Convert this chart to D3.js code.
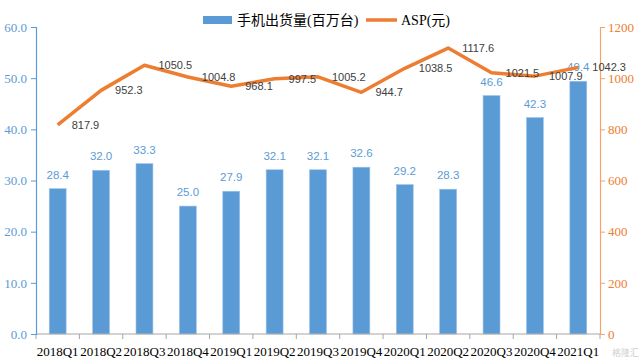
<!DOCTYPE html>
<html>
<head>
<meta charset="utf-8">
<script src="https://cdn.jsdelivr.net/npm/d3@7"></script>
<style>
body { margin:0; background:#fff; }
svg text { font-family: "Liberation Serif", "Noto Sans CJK SC", serif; }
</style>
</head>
<body>
<div id="chart"></div>
<script>
var quarters = ["2018Q1","2018Q2","2018Q3","2018Q4","2019Q1","2019Q2","2019Q3","2019Q4","2020Q1","2020Q2","2020Q3","2020Q4","2021Q1"];
var shipments = [28.4, 32.0, 33.3, 25.0, 27.9, 32.1, 32.1, 32.6, 29.2, 28.3, 46.6, 42.3, 49.4];
var asp = [817.9, 952.3, 1050.5, 1004.8, 968.1, 997.5, 1005.2, 944.7, 1038.5, 1117.6, 1021.5, 1007.9, 1042.3];
var leftTicks = [0, 10, 20, 30, 40, 50, 60];
var rightTicks = [0, 200, 400, 600, 800, 1000, 1200];

var blue = "#5b9bd5", orange = "#ed7d31";
var width = 640, height = 363;
var margin = {top:27, left:36, right:40, bottom:29};

var svg = d3.select("#chart").append("svg")
  .attr("width", width)
  .attr("height", height);

var x = d3.scaleBand()
  .domain(quarters)
  .range([margin.left, width - margin.right])
  .paddingInner(0.61)
  .paddingOuter(0.305);

var yL = d3.scaleLinear().domain([0, 60]).range([height - margin.bottom, margin.top]);
var yR = d3.scaleLinear().domain([0, 1200]).range([height - margin.bottom, margin.top]);

// band edges for x ticks
var step = x.step();
var x0 = margin.left;

// bars
svg.selectAll(".bar")
  .data(shipments)
  .enter().append("rect")
  .attr("class", "bar")
  .attr("x", function(d, i){ return x(quarters[i]); })
  .attr("y", function(d){ return yL(d); })
  .attr("width", x.bandwidth())
  .attr("height", function(d){ return yL(0) - yL(d); })
  .attr("fill", blue)
  .attr("stroke", "#9dc3e6")
  .attr("stroke-width", 0.6);

// bar labels
svg.selectAll(".barlab")
  .data(shipments)
  .enter().append("text")
  .attr("x", function(d, i){ return x(quarters[i]) + x.bandwidth()/2; })
  .attr("y", function(d){ return yL(d) - 10; })
  .attr("text-anchor", "middle")
  .style("font-family", "'Liberation Sans', sans-serif")
  .style("font-size", "11.5px")
  .attr("fill", blue)
  .text(function(d){ return d.toFixed(1); });

// x axis
var xAxis = svg.append("g")
  .attr("transform", "translate(0," + yL(0) + ")");
xAxis.append("line")
  .attr("x1", margin.left).attr("x2", width - margin.right)
  .attr("stroke", "#a6a6a6");
xAxis.selectAll(".xt")
  .data(d3.range(quarters.length + 1))
  .enter().append("line")
  .attr("x1", function(i){ return x0 + i * step; })
  .attr("x2", function(i){ return x0 + i * step; })
  .attr("y2", 5)
  .attr("stroke", "#a6a6a6");
xAxis.selectAll(".xl")
  .data(quarters)
  .enter().append("text")
  .attr("x", function(d){ return x(d) + x.bandwidth()/2; })
  .attr("y", 22)
  .attr("text-anchor", "middle")
  .style("font-size", "13px")
  .attr("fill", "#000")
  .text(function(d){ return d; });

// left axis
var gL = svg.append("g")
  .attr("transform", "translate(" + margin.left + ",0)")
  .call(d3.axisLeft(yL).tickValues(leftTicks).tickSize(5).tickPadding(4)
    .tickFormat(function(d){ return d.toFixed(1); }));
gL.select(".domain").attr("stroke", blue).attr("stroke-width", 1.2);
gL.selectAll(".tick line").attr("stroke", blue);
gL.selectAll(".tick text").attr("fill", blue)
  .style("font-family", "'Liberation Serif', serif").style("font-size", "13px");

// right axis
var gR = svg.append("g")
  .attr("transform", "translate(" + (width - margin.right) + ",0)")
  .call(d3.axisRight(yR).tickValues(rightTicks).tickSize(5).tickPadding(3)
    .tickFormat(d3.format("d")));
gR.select(".domain").attr("stroke", "#f4a36c").attr("stroke-width", 1.2);
gR.selectAll(".tick line").attr("stroke", "#f4a36c");
gR.selectAll(".tick text").attr("fill", orange)
  .style("font-family", "'Liberation Serif', serif").style("font-size", "13px");

// asp line
var line = d3.line()
  .x(function(d, i){ return x(quarters[i]) + x.bandwidth()/2; })
  .y(function(d){ return yR(d); });

svg.append("path")
  .datum(asp)
  .attr("d", line)
  .attr("fill", "none")
  .attr("stroke", orange)
  .attr("stroke-width", 3.5)
  .attr("stroke-linejoin", "round");

svg.selectAll(".asplab")
  .data(asp)
  .enter().append("text")
  .attr("x", function(d, i){ return x(quarters[i]) + x.bandwidth()/2 + 14; })
  .attr("y", function(d){ return yR(d) + 4; })
  .style("font-family", "'Liberation Sans', sans-serif")
  .style("font-size", "11px")
  .attr("fill", "#404040")
  .text(function(d){ return d.toFixed(1); });

// legend
var lg = svg.append("g");
lg.append("rect")
  .attr("x", 203).attr("y", 16).attr("width", 29).attr("height", 8)
  .attr("fill", blue);
lg.append("text")
  .attr("x", 237).attr("y", 25)
  .style("font-size", "14px")
  .attr("fill", "#000")
  .text("手机出货量(百万台)");
lg.append("line")
  .attr("x1", 366).attr("x2", 397).attr("y1", 20).attr("y2", 20)
  .attr("stroke", orange).attr("stroke-width", 3.5);
lg.append("text")
  .attr("x", 401).attr("y", 25)
  .style("font-size", "14px")
  .attr("fill", "#000")
  .text("ASP(元)");

// watermark
svg.append("text")
  .attr("x", 612).attr("y", 356)
  .style("font-family", "'Noto Sans CJK SC', sans-serif")
  .style("font-size", "9px")
  .attr("fill", "#d0d0d0")
  .text("格隆汇");
</script>
</body>
</html>
